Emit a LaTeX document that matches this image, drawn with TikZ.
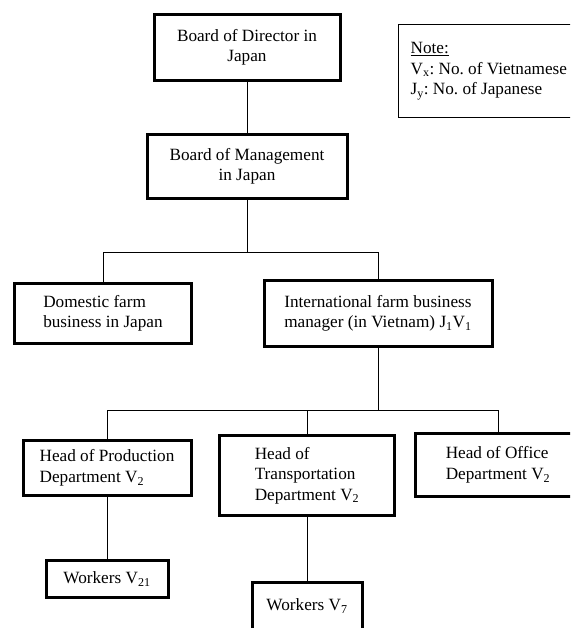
\documentclass[tikz,border=0pt]{standalone}
\usepackage{fontspec}
\setmainfont{Liberation Serif}
\frenchspacing
\begin{document}
\begin{tikzpicture}[x=1pt,y=-1pt]
  \tikzstyle{box}=[rectangle,draw,line width=3pt,inner sep=0pt,font=\fontsize{17.2}{20.5}\selectfont]
  \tikzstyle{note box}=[box,line width=1.2pt,align=left,inner xsep=12.4pt,anchor=west]
  \tikzstyle{edge}=[draw,line width=1pt,-,black]

  \useasboundingbox (0,0) rectangle (570,628);
  \clip (0,0) rectangle (570,628);

  \node[box,align=center,minimum width=186pt,minimum height=66pt] (bod) at (247,47.5) {Board of Director in\\Japan};
  \node[box,align=center,minimum width=200pt,minimum height=64pt] (bom) at (247,166.5) {Board of Management\\in Japan};
  \node[note box,minimum height=93pt] (note) at (397.6,71) {\underline{Note:}\\V\textsubscript{x}: No. of Vietnamese\\J\textsubscript{y}: No. of Japanese};

  \node[box,align=left,minimum width=177pt,minimum height=60pt] (dom) at (103,313.5) {Domestic farm\\business in Japan};
  \node[box,align=left,minimum width=228pt,minimum height=66pt] (intl) at (378,313.5) {International farm business\\manager (in Vietnam) J\textsubscript{1}V\textsubscript{1}};

  \node[box,align=left,minimum width=168pt,minimum height=55pt] (prod) at (107,468) {Head of Production\\Department V\textsubscript{2}};
  \node[box,align=left,minimum width=175pt,minimum height=80pt] (trans) at (307,475.5) {Head of\\Transportation\\Department V\textsubscript{2}};
  \node[box,align=left,minimum width=165pt,minimum height=63pt] (office) at (498,465) {Head of Office\\Department V\textsubscript{2}};

  \node[box,minimum width=122pt,minimum height=37pt] (w21) at (107,579) {Workers V\textsubscript{21}};
  \node[box,minimum width=110pt,minimum height=47pt] (w7) at (307,606) {Workers V\textsubscript{7}};

  \coordinate (c1) at (247,252);
  \coordinate (c2) at (378,410);

  \draw[edge] (bod) -- (bom);
  \draw[edge] (bom) -- (c1);
  \draw[edge] (c1) -| (dom);
  \draw[edge] (c1) -| (intl);
  \draw[edge] (intl) -- (c2);
  \draw[edge] (c2) -| (prod);
  \draw[edge] (c2) -| (trans);
  \draw[edge] (c2) -| (office);
  \draw[edge] (prod) -- (w21);
  \draw[edge] (trans) -- (w7);
\end{tikzpicture}
\end{document}
